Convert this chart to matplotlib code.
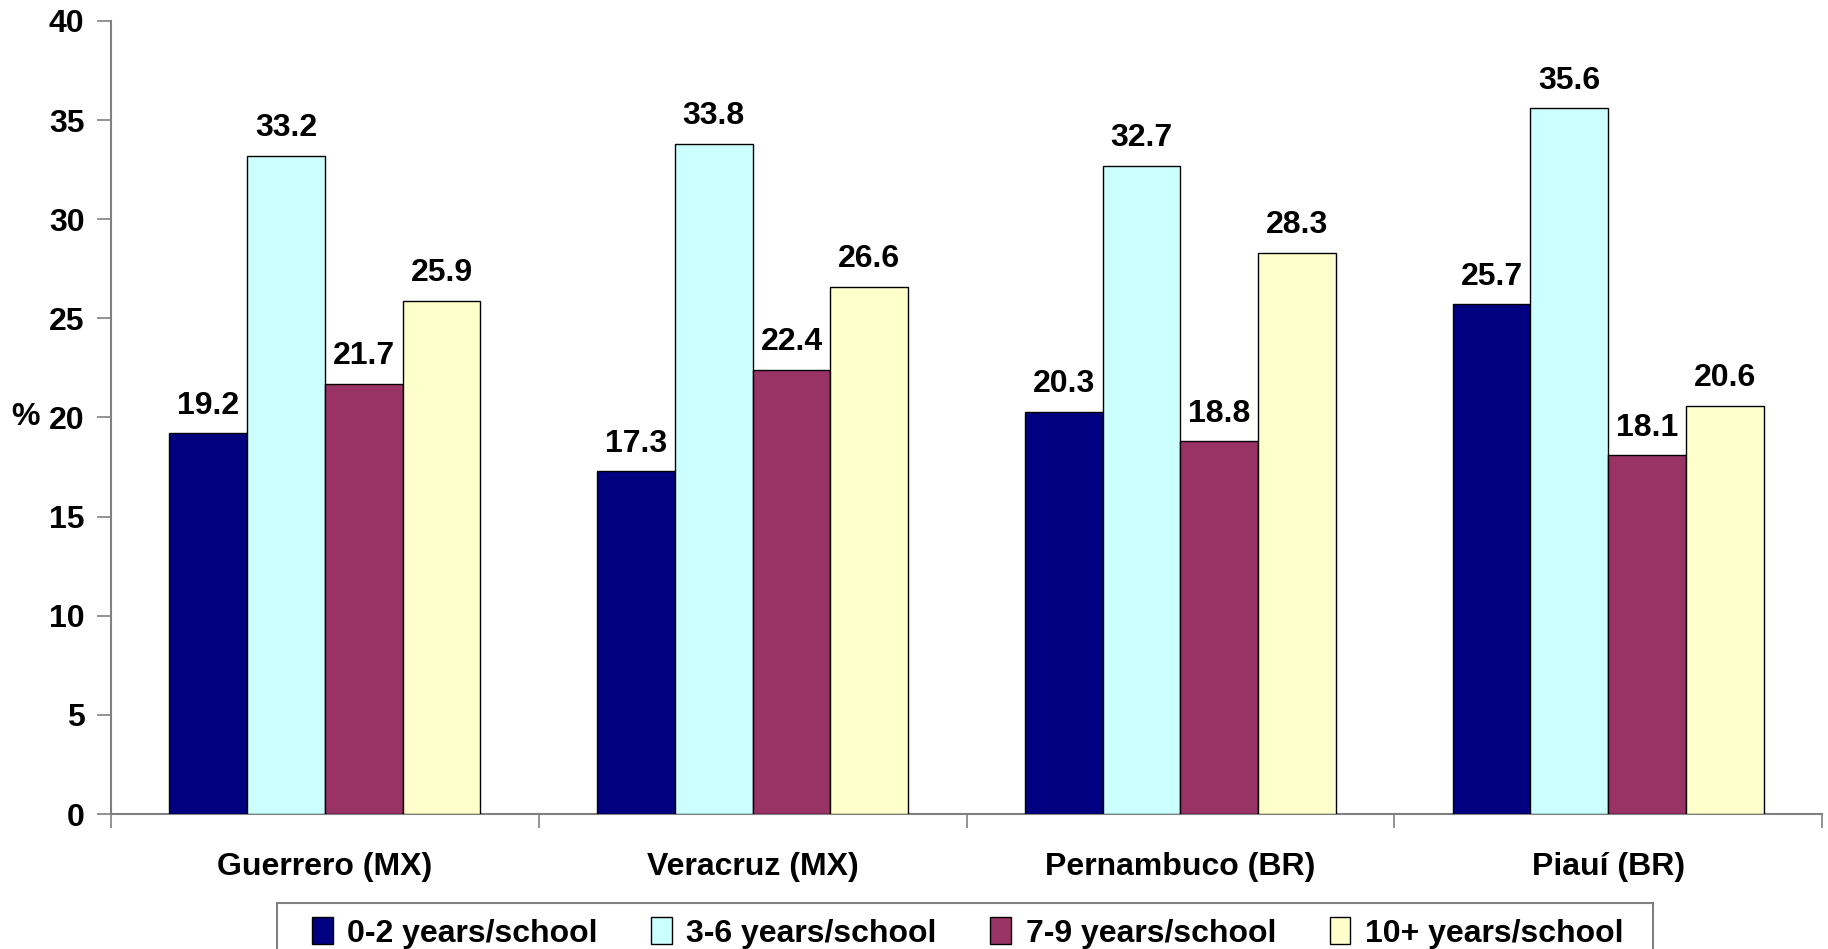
import matplotlib
matplotlib.use("Agg")
import matplotlib.pyplot as plt
import numpy as np
from matplotlib.patches import Patch, Rectangle

plt.rcParams['font.family'] = ['Liberation Sans', 'DejaVu Sans']
plt.rcParams['font.weight'] = 'bold'

regions = ["Guerrero (MX)", "Veracruz (MX)", "Pernambuco (BR)", "Piauí (BR)"]
series_names = ["0-2 years/school", "3-6 years/school", "7-9 years/school", "10+ years/school"]
years_0_2 = [19.2, 17.3, 20.3, 25.7]
years_3_6 = [33.2, 33.8, 32.7, 35.6]
years_7_9 = [21.7, 22.4, 18.8, 18.1]
years_10p = [25.9, 26.6, 28.3, 20.6]
colors = ["#000080", "#CCFFFF", "#993366", "#FFFFCC"]
y_ticks = [0, 5, 10, 15, 20, 25, 30, 35, 40]

series = [years_0_2, years_3_6, years_7_9, years_10p]

W, H = 1828, 949
fig = plt.figure(figsize=(W / 100, H / 100), dpi=100)
ax = fig.add_axes([111/W, 1 - 814/H, (1822 - 111)/W, (814 - 21)/H])

n = len(series)
bar_w = 1.0 / (n + 1.5)
x = np.arange(len(regions))
fs = 23

for i, (vals, col, name) in enumerate(zip(series, colors, series_names)):
    pos = x + (i - (n - 1) / 2) * bar_w
    bars = ax.bar(pos, vals, width=bar_w, color=col, edgecolor="black",
                  linewidth=1.0, label=name, zorder=3)
    for b, v in zip(bars, vals):
        ax.annotate(f"{v:.1f}", (b.get_x() + b.get_width() / 2, v),
                    xytext=(0, 9), textcoords="offset points",
                    ha="center", va="bottom", fontsize=fs, fontweight="bold")

ax.set_xlim(-0.5, len(regions) - 0.5)
ax.set_ylim(0, 40)
ax.set_yticks(y_ticks)
ax.set_yticklabels([str(t) for t in y_ticks], fontsize=fs, fontweight="bold")

# Category labels centred, tick marks on category boundaries
ax.set_xticks(x)
ax.set_xticklabels(regions, fontsize=fs, fontweight="bold")
ax.tick_params(axis="x", length=0, pad=27)
ax.set_xticks(np.arange(-0.5, len(regions)), minor=True)
ax.tick_params(axis="x", which="minor", length=10, width=1.2, color="#808080", direction="out")
ax.tick_params(axis="y", length=10, width=1.2, color="#808080", direction="out", pad=9)

for side in ["top", "right"]:
    ax.spines[side].set_visible(False)
for side in ["left", "bottom"]:
    ax.spines[side].set_color("#808080")
    ax.spines[side].set_linewidth(1.5)

fig.text(26/W, 1 - 417/H, "%", fontsize=fs, fontweight="bold", ha="center", va="center")

# Legend box running off the bottom edge of the figure
fig.add_artist(Rectangle((277/W, -0.05), (1653 - 277)/W, 1 - 903/H + 0.05,
                         transform=fig.transFigure, facecolor="white",
                         edgecolor="#808080", linewidth=1.5, zorder=1))

handles = [Patch(facecolor=c, edgecolor="black", linewidth=1.0) for c in colors]
leg = fig.legend(handles, series_names, loc="center left", ncol=4,
                 bbox_to_anchor=(312/W, 1 - 933/H),
                 fontsize=fs, frameon=False,
                 handlelength=0.65, handleheight=0.9, handletextpad=0.45,
                 columnspacing=1.68, borderpad=0, borderaxespad=0)
leg.set_zorder(2)
for t in leg.get_texts():
    t.set_fontweight("bold")

fig.savefig("out.png", dpi=100)
